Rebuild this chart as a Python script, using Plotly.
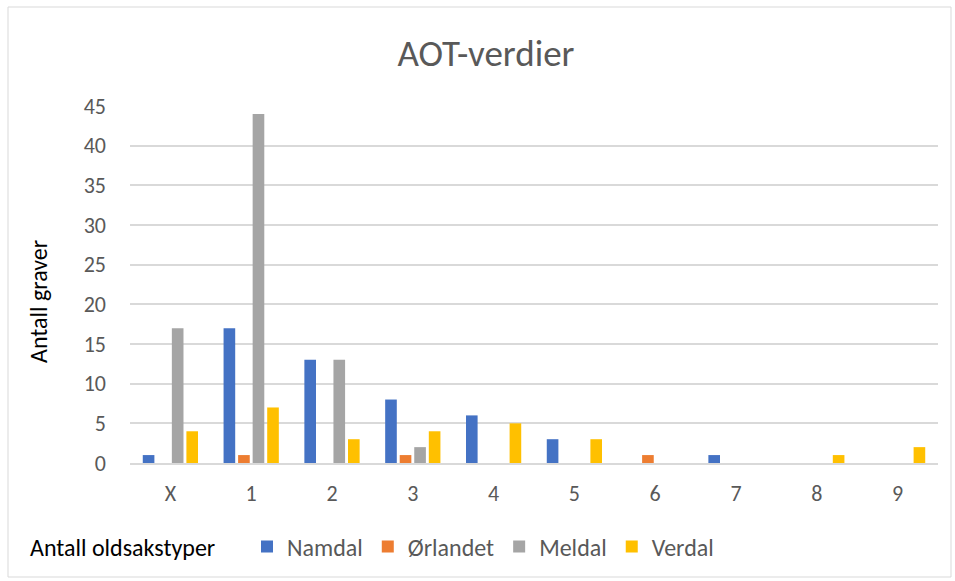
import plotly.graph_objects as go

categories = ["X", "1", "2", "3", "4", "5", "6", "7", "8", "9"]
namdal = [1, 17, 13, 8, 6, 3, 0, 1, 0, 0]
orlandet = [0, 1, 0, 1, 0, 0, 1, 0, 0, 0]
meldal = [17, 44, 13, 2, 0, 0, 0, 0, 0, 0]
verdal = [4, 7, 3, 4, 5, 3, 0, 0, 1, 2]

series = [
    ("Namdal", namdal, "#4472C4"),
    ("Ørlandet", orlandet, "#ED7D31"),
    ("Meldal", meldal, "#A5A5A5"),
    ("Verdal", verdal, "#FFC000"),
]

FONT = "Calibri, Carlito, Lato, sans-serif"
fig = go.Figure()
for name, vals, col in series:
    fig.add_trace(go.Bar(x=categories, y=vals, name=name, marker=dict(color=col, line=dict(width=0))))

L, R, T, B = 130, 17, 106, 118
W, H = 955, 581
pw, ph = W - L - R, H - T - B

def px_x(x):
    return (x - L) / pw

def px_y(y):
    return (H - B - y) / ph

fig.update_layout(
    width=W, height=H,
    margin=dict(l=L, r=R, t=T, b=B, pad=0),
    paper_bgcolor="white", plot_bgcolor="white",
    font=dict(family=FONT, color="#595959", size=20),
    barmode="group", bargap=0.28, bargroupgap=0.2,
    title=dict(text="AOT-verdier", x=486 / W, xanchor="center", y=1 - 53 / H, yanchor="middle",
               font=dict(size=37, color="#595959", family=FONT)),
    showlegend=True,
    legend=dict(orientation="h", x=px_x(247), xanchor="left", y=px_y(547), yanchor="middle",
                font=dict(size=24, color="#595959"), itemwidth=30, traceorder="normal"),
    xaxis=dict(showgrid=False, showline=True, linecolor="#d9d9d9", linewidth=1.5, ticks="",
               ticklabelstandoff=10, tickfont=dict(size=22, color="#595959")),
    yaxis=dict(range=[0, 45], dtick=5, showgrid=True, gridcolor="#d9d9d9", gridwidth=1.5,
               zeroline=False, showline=False, ticks="", ticklabelstandoff=23,
               tickfont=dict(size=22, color="#595959")),
)

fig.add_annotation(text="Antall graver", xref="paper", yref="paper", textangle=-90,
                   x=px_x(38), y=px_y(302), xanchor="center", yanchor="middle",
                   showarrow=False, font=dict(size=24, color="#000000", family=FONT))

fig.add_annotation(text="Antall oldsakstyper", xref="paper", yref="paper",
                   x=px_x(28), y=px_y(547), xanchor="left", yanchor="middle",
                   showarrow=False, font=dict(size=24, color="#000000", family=FONT))

fig.add_shape(type="rect", xref="paper", yref="paper",
              x0=px_x(8), x1=px_x(951), y0=px_y(577), y1=px_y(7),
              line=dict(color="#d9d9d9", width=1), fillcolor="rgba(0,0,0,0)", layer="below")

fig.write_html("out.html", config={"displayModeBar": False},
               post_script="document.body.style.margin='0';")
